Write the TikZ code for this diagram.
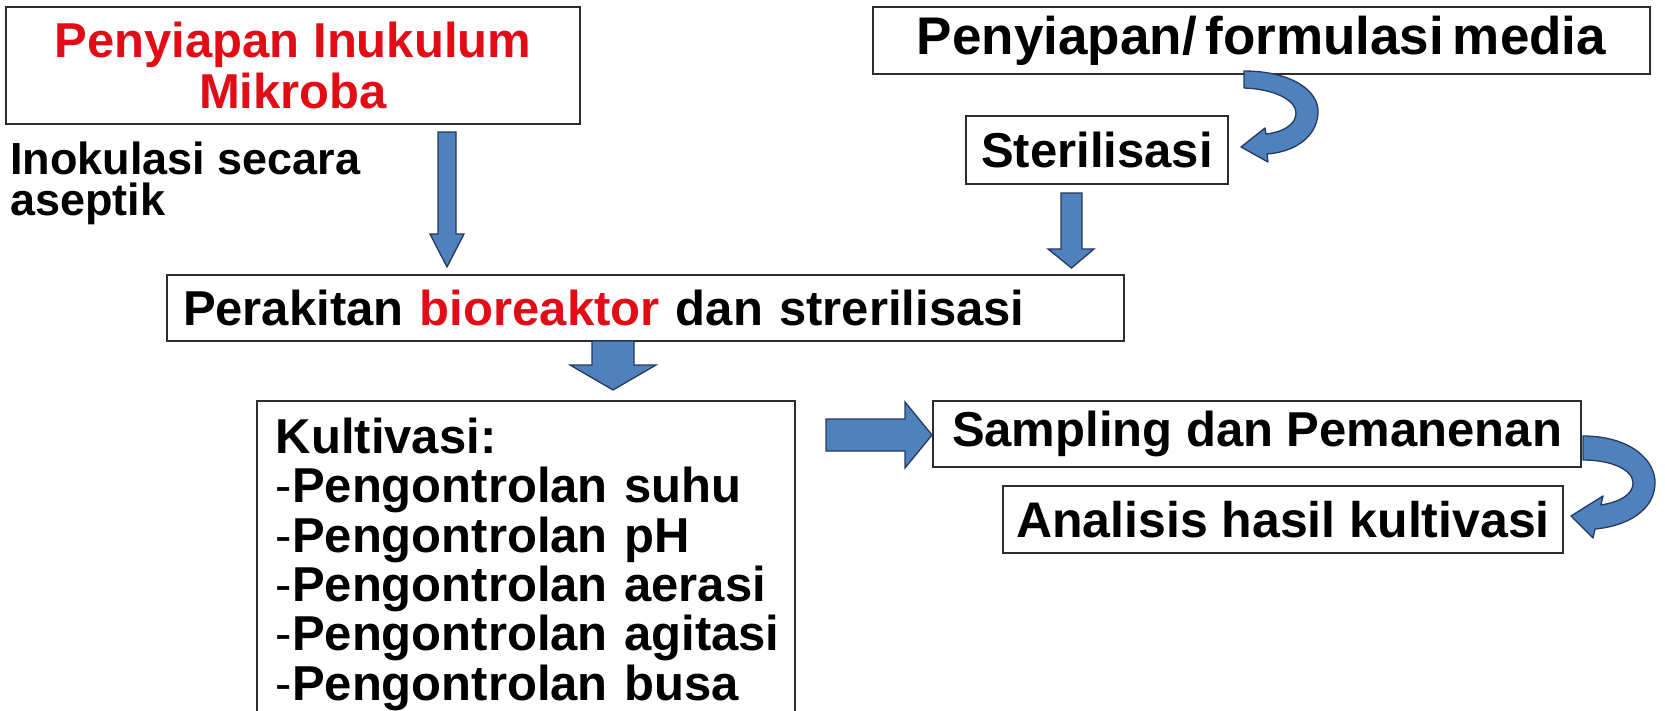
\documentclass[tikz,border=0pt]{standalone}
\usepackage{fontspec}
\setmainfont{Liberation Sans}
\newfontfamily\tightfont{Liberation Sans}[WordSpace=0.75]
\newfontfamily\tighterfont{Liberation Sans}[WordSpace=0.6]
\definecolor{txtred}{RGB}{226,12,22}
\definecolor{arrowfill}{RGB}{79,129,189}
\definecolor{arrowline}{RGB}{38,58,96}
\definecolor{boxline}{RGB}{45,45,45}
\begin{document}
\begin{tikzpicture}[x=1pt,y=-1pt,
  box/.style={draw=boxline, line width=1.6pt, fill=white, inner sep=0pt,
    font=\bfseries\fontsize{49}{51}\selectfont},
  blockarrow/.style={fill=arrowfill, draw=arrowline, line width=1.3pt, line join=miter},
  plaintext/.style={inner sep=0pt, align=left, font=\bfseries\fontsize{45}{41}\selectfont}]
\useasboundingbox (0,0) rectangle (1665,711);

% boxes
\node[box, minimum width=574pt, minimum height=117pt, align=center, text=txtred]
  (inok) at (293,65.5) {Penyiapan Inukulum\\Mikroba};
\node[plaintext, anchor=north west] (asep) at (10,142) {Inokulasi secara\\aseptik};
\node[box, minimum width=777pt, minimum height=67pt,
  font=\tightfont\bfseries\fontsize{53}{55}\selectfont]
  (media) at (1261.5,40.5) {Penyiapan/ formulasi media};
\node[box, minimum width=262pt, minimum height=68pt] (steril) at (1097,150) {Sterilisasi};
\node[box, minimum height=66pt, text width=925pt, inner xsep=16pt, align=left]
  (perak) at (645.5,308) {Perakitan \textcolor{txtred}{bioreaktor} dan strerilisasi};
\node[box, anchor=north west, text width=500pt, inner xsep=19pt, inner ysep=17pt,
  align=left, font=\tighterfont\bfseries\fontsize{49}{49.4}\selectfont]
  (kult) at (256,400)
  {\mbox{Kultivasi:}\\
   \mbox{{\mdseries-}Pengontrolan suhu}\\
   \mbox{{\mdseries-}Pengontrolan pH}\\
   \mbox{{\mdseries-}Pengontrolan aerasi}\\
   \mbox{{\mdseries-}Pengontrolan agitasi}\\
   \mbox{{\mdseries-}Pengontrolan busa}};
\node[box, minimum width=648pt, minimum height=66pt] (samp) at (1257,434)
  {Sampling dan Pemanenan};
\node[box, minimum width=560pt, minimum height=67pt,
  font=\bfseries\fontsize{50}{52}\selectfont] (anal) at (1283,519.5)
  {Analisis hasil kultivasi};

% straight block arrows
% inok -> perak
\filldraw[blockarrow] (438,132) -- (456,132) -- (456,234) -- (464,234) -- (447,267)
  -- (430,234) -- (438,234) -- cycle;
% steril -> perak
\filldraw[blockarrow] (1061,193) -- (1082,193) -- (1082,249) -- (1094,249) -- (1071.5,268)
  -- (1048,249) -- (1061,249) -- cycle;
% perak -> kult
\filldraw[blockarrow] (592,341) -- (634,341) -- (634,365) -- (656,365) -- (613,390)
  -- (570,365) -- (592,365) -- cycle;
% kult -> samp
\filldraw[blockarrow] (826,419) -- (905,419) -- (905,402) -- (932,435) -- (905,468)
  -- (905,451) -- (826,451) -- cycle;

% curved arrows
% media -> steril
\filldraw[blockarrow, line join=round] (1244,71) .. controls (1290,71) and (1320,90) .. (1318,114)
  .. controls (1316,138) and (1294,152) .. (1267,154)
  -- (1268,162) -- (1241,147) -- (1265,128) -- (1266,134)
  .. controls (1284,132) and (1296,124) .. (1296,113)
  .. controls (1296,100) and (1274,89) .. (1244,88) -- cycle;
% samp -> anal
\filldraw[blockarrow, line join=round] (1583,436) .. controls (1630,436) and (1656,460) .. (1655,484)
  .. controls (1654,510) and (1628,526) .. (1595,529)
  -- (1593,538) -- (1571,516) -- (1603,496) -- (1601,505)
  .. controls (1619,502) and (1633,495) .. (1633,483)
  .. controls (1633,470) and (1612,460) .. (1583,460) -- cycle;
\end{tikzpicture}
\end{document}
